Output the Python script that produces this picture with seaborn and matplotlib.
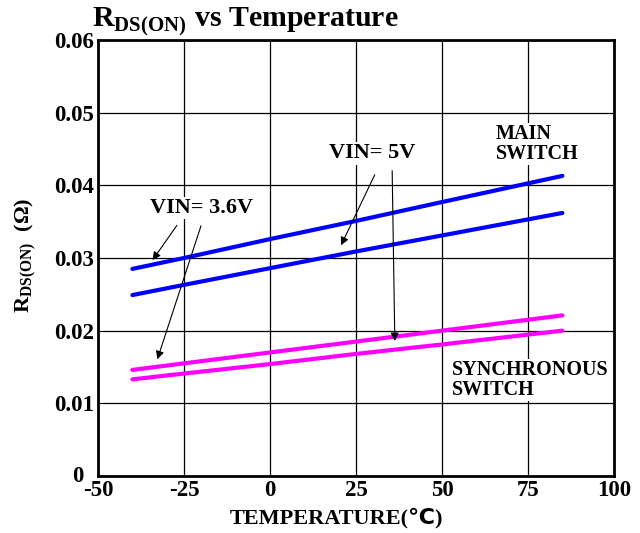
import numpy as np
import pandas as pd
import matplotlib
matplotlib.use("Agg")
import matplotlib.pyplot as plt
import matplotlib.transforms as mtransforms
import seaborn as sns

# data
temp = [-40, -25, 0, 25, 50, 85]
main_36 = [0.0285, 0.0300, 0.0326, 0.0351, 0.0377, 0.0413]
main_5 = [0.0249, 0.0263, 0.0286, 0.0309, 0.0331, 0.0362]
sync_36 = [0.0146, 0.0155, 0.0170, 0.0185, 0.0200, 0.0221]
sync_5 = [0.0133, 0.0141, 0.0154, 0.0168, 0.0181, 0.0200]
xticks = [-50, -25, 0, 25, 50, 75, 100]
yticks = [0, 0.01, 0.02, 0.03, 0.04, 0.05, 0.06]
ytick_labels = ["0", "0.01", "0.02", "0.03", "0.04", "0.05", "0.06"]

series = {"main 3.6V": main_36, "main 5V": main_5,
          "sync 3.6V": sync_36, "sync 5V": sync_5}
df = pd.concat([pd.DataFrame({"temp": temp, "r": v, "curve": k}) for k, v in series.items()])
palette = {"main 3.6V": "#0000ff", "main 5V": "#0000ff",
           "sync 3.6V": "#ff00ff", "sync 5V": "#ff00ff"}

sns.set_style("white")
plt.rcParams["font.family"] = ["Liberation Serif", "DejaVu Sans"]
plt.rcParams["font.weight"] = "bold"
plt.rcParams["text.color"] = "black"
plt.rcParams["axes.labelcolor"] = "black"
plt.rcParams["xtick.color"] = "black"
plt.rcParams["ytick.color"] = "black"
plt.rcParams["mathtext.fontset"] = "custom"
plt.rcParams["mathtext.rm"] = "Liberation Serif:bold"
plt.rcParams["mathtext.bf"] = "Liberation Serif:bold"

fig = plt.figure(figsize=(6.4, 5.33), dpi=100)
ax = fig.add_axes([98 / 640, 1 - 476 / 533, 516 / 640, 436 / 533])

sns.lineplot(data=df, x="temp", y="r", hue="curve", palette=palette,
             linewidth=3, legend=False, ax=ax, zorder=3)

ax.set_xlim(-50, 100)
ax.set_ylim(0, 0.06)
ax.set_xticks(xticks)
ax.set_yticks(yticks)
ax.set_xticklabels([str(t) for t in xticks])
ax.set_yticklabels(ytick_labels)
ax.tick_params(labelsize=16.5, length=0, pad=3)
for lab in ax.get_xticklabels() + ax.get_yticklabels():
    lab.set_fontweight("bold")
# the "0" on the y axis sits a bit left and up in the original
zero_lab = ax.get_yticklabels()[0]
zero_lab.set_transform(zero_lab.get_transform()
                       + mtransforms.ScaledTranslation(-0.10, 0.02, fig.dpi_scale_trans))

ax.grid(True, color="black", linewidth=0.9)
for s in ax.spines.values():
    s.set_color("black")
    s.set_linewidth(2)

ax.set_xlabel("TEMPERATURE(℃)", fontsize=16, fontweight="bold")
ax.xaxis.set_label_coords(0.463, -0.072)
ax.set_ylabel(r"R$_{\mathrm{DS(ON)}}$  (Ω)", fontsize=16, fontweight="bold")
ax.yaxis.set_label_coords(-0.114, 0.507)

fig.text(92 / 640, 1 - 26 / 533, r"R$_{\mathrm{DS(ON)}}$ vs Temperature",
         fontsize=21.5, fontweight="bold", va="baseline", ha="left")

box = dict(facecolor="white", edgecolor="none", pad=1)
arrow = dict(arrowstyle="-|>", color="black", lw=0.8, mutation_scale=12)

ax.text(-19.8, 0.0369, "VIN= 3.6V", fontsize=16, fontweight="bold",
        ha="center", va="center", bbox=box, zorder=4)
ax.annotate("", xy=(-34.6, 0.0294), xytext=(-26.6, 0.0348), arrowprops=arrow, zorder=4)
ax.annotate("", xy=(-33.0, 0.0157), xytext=(-19.8, 0.0348), arrowprops=arrow, zorder=4)

ax.text(29.6, 0.0444, "VIN= 5V", fontsize=16, fontweight="bold",
        ha="center", va="center", bbox=box, zorder=4)
ax.annotate("", xy=(20.3, 0.0314), xytext=(30.8, 0.0418), arrowprops=arrow, zorder=4)
ax.annotate("", xy=(36.3, 0.0182), xytext=(35.5, 0.0424), arrowprops=arrow, zorder=4)

ax.text(65.7, 0.0457, "MAIN\nSWITCH", fontsize=14.5, fontweight="bold",
        ha="left", va="center", linespacing=1.0, bbox=box, zorder=4)
ax.text(52.9, 0.0132, "SYNCHRONOUS\nSWITCH", fontsize=14.5, fontweight="bold",
        ha="left", va="center", linespacing=1.0, bbox=box, zorder=4)

fig.savefig("out.png", dpi=100)
